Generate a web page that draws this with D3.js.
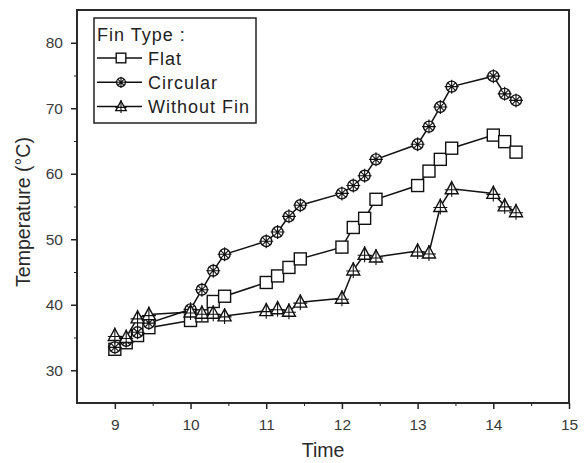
<!DOCTYPE html>
<html>
<head>
<meta charset="utf-8">
<script src="https://cdn.jsdelivr.net/npm/d3@7"></script>
<style>
	body { margin: 0; background: #fff; }
	svg { font-family: "Liberation Sans", Arial, sans-serif; }
	.axis text { fill: #3a3a3a; font-size: 15.5px; }
	.axis path, .axis line { stroke: #222; }
</style>
</head>
<body>
<svg id="chart" width="584" height="463"></svg>
<script>
// clock times written as decimals (9.15 = 9:15)
const times = [9, 9.15, 9.3, 9.45, 10, 10.15, 10.3, 10.45, 11, 11.15, 11.3, 11.45,
	12, 12.15, 12.3, 12.45, 13, 13.15, 13.3, 13.45, 14, 14.15, 14.3];
const flat = [33.2, 34.2, 35.3, 36.5, 37.6, 38.3, 40.5, 41.3, 43.4, 44.4, 45.7, 47.0,
	48.8, 51.8, 53.2, 56.1, 58.2, 60.4, 62.2, 63.9, 65.9, 64.9, 63.3];
const circular = [33.5, 34.5, 35.8, 37.2, 39.3, 42.3, 45.2, 47.7, 49.7, 51.1, 53.5, 55.2,
	57.0, 58.2, 59.7, 62.2, 64.5, 67.2, 70.2, 73.3, 74.9, 72.2, 71.2];
const withoutFin = [35.3, 35.0, 38.0, 38.5, 38.9, 38.7, 38.7, 38.3, 39.1, 39.4, 39.0, 40.4,
	41.0, 45.3, 47.7, 47.3, 48.2, 47.9, 55.0, 57.7, 57.0, 55.1, 54.2];
const seriesNames = ['Flat', 'Circular', 'Without Fin'];
const xTicks = [9, 10, 11, 12, 13, 14, 15];
const yTicks = [30, 40, 50, 60, 70, 80];

const m = { left: 77, top: 10, right: 569, bottom: 403 };
const svg = d3.select('#chart');

let x = d3.scaleLinear().domain([8.5, 15]).range([m.left, m.right]);
let y = d3.scaleLinear().domain([25, 85]).range([m.bottom, m.top]);

// frame
svg.append('rect')
	.attr('x', m.left).attr('y', m.top)
	.attr('width', m.right - m.left).attr('height', m.bottom - m.top)
	.attr('fill', 'none').attr('stroke', '#2a2a2a').attr('stroke-width', 2);

// minor ticks
svg.append('g')
	.attr('class', 'axis')
	.attr('transform', `translate(0,${m.bottom})`)
	.call(d3.axisBottom(x).tickValues(d3.range(9.5, 15, 1)).tickSize(3).tickFormat(''))
	.call(g => g.select('.domain').remove());
svg.append('g')
	.attr('class', 'axis')
	.attr('transform', `translate(${m.left},0)`)
	.call(d3.axisLeft(y).tickValues(d3.range(35, 85, 10)).tickSize(3).tickFormat(''))
	.call(g => g.select('.domain').remove());

// major ticks
svg.append('g')
	.attr('class', 'axis')
	.attr('transform', `translate(0,${m.bottom})`)
	.call(d3.axisBottom(x).tickValues(xTicks).tickSize(6).tickPadding(10).tickFormat(d3.format('d')))
	.call(g => g.select('.domain').remove())
	.call(g => g.selectAll('line').attr('stroke-width', 1.5));
svg.append('g')
	.attr('class', 'axis')
	.attr('transform', `translate(${m.left},0)`)
	.call(d3.axisLeft(y).tickValues(yTicks).tickSize(6).tickPadding(8).tickFormat(d3.format('d')))
	.call(g => g.select('.domain').remove())
	.call(g => g.selectAll('line').attr('stroke-width', 1.5));

// axis titles
svg.append('text')
	.attr('x', 323).attr('y', 457)
	.attr('text-anchor', 'middle')
	.attr('font-size', 19.5).attr('fill', '#2a2a2a')
	.text('Time');
svg.append('text')
	.attr('transform', `translate(30,212) rotate(-90)`)
	.attr('text-anchor', 'middle')
	.attr('font-size', 19.5).attr('fill', '#2a2a2a')
	.text('Temperature (°C)');

// markers
function drawMarker(g, kind, s) {
	s = s || 1;
	if (kind === 0) {
		g.append('rect').attr('x', -6 * s).attr('y', -6 * s).attr('width', 12 * s).attr('height', 12 * s)
			.attr('fill', '#fff').attr('stroke', '#111').attr('stroke-width', 1.4);
	} else if (kind === 1) {
		g.append('circle').attr('r', 5.5 * s).attr('fill', '#fff').attr('stroke', '#111').attr('stroke-width', 1.4);
		g.append('path').attr('d', `M${-4*s},${-4*s}L${4*s},${4*s}M${-4*s},${4*s}L${4*s},${-4*s}M0,${-7*s}V${7*s}M${-7*s},0H${7*s}`)
			.attr('stroke', '#111').attr('stroke-width', 1.1).attr('fill', 'none');
	} else {
		g.append('path').attr('d', `M0,${-7*s}L${6.5*s},${5*s}H${-6.5*s}Z`)
			.attr('fill', '#fff').attr('stroke', '#111').attr('stroke-width', 1.4);
		g.append('path').attr('d', `M0,${-8*s}V${8*s}M${-7*s},${s}H${7*s}`)
			.attr('stroke', '#111').attr('stroke-width', 1.1).attr('fill', 'none');
	}
}

let line = d3.line().x((d, i) => x(times[i])).y(d => y(d));
let allSeries = [flat, circular, withoutFin];

allSeries.forEach((s) => {
	svg.append('path').datum(s)
		.attr('d', line)
		.attr('fill', 'none').attr('stroke', '#111').attr('stroke-width', 1.5);
});
allSeries.forEach((s, k) => {
	svg.append('g').selectAll('g')
		.data(s)
		.enter().append('g')
			.attr('transform', (d, i) => `translate(${x(times[i])},${y(d)})`)
			.each(function() { drawMarker(d3.select(this), k); });
});

// legend
let lg = svg.append('g');
lg.append('rect')
	.attr('x', 94).attr('y', 18).attr('width', 162).attr('height', 105)
	.attr('fill', '#fff').attr('stroke', '#222').attr('stroke-width', 1.5);
lg.append('text')
	.attr('x', 97).attr('y', 41)
	.attr('font-size', 18).attr('letter-spacing', 1).attr('fill', '#222')
	.text('Fin Type :');
seriesNames.forEach((name, k) => {
	let cy = 58 + k * 24.3;
	lg.append('line')
		.attr('x1', 97).attr('x2', 142).attr('y1', cy).attr('y2', cy)
		.attr('stroke', '#111').attr('stroke-width', 1.5);
	drawMarker(lg.append('g').attr('transform', `translate(121,${cy})`), k, 0.8);
	lg.append('text')
		.attr('x', 148).attr('y', cy + 6.5)
		.attr('font-size', 18).attr('letter-spacing', 1).attr('fill', '#222')
		.text(name);
});
</script>
</body>
</html>
